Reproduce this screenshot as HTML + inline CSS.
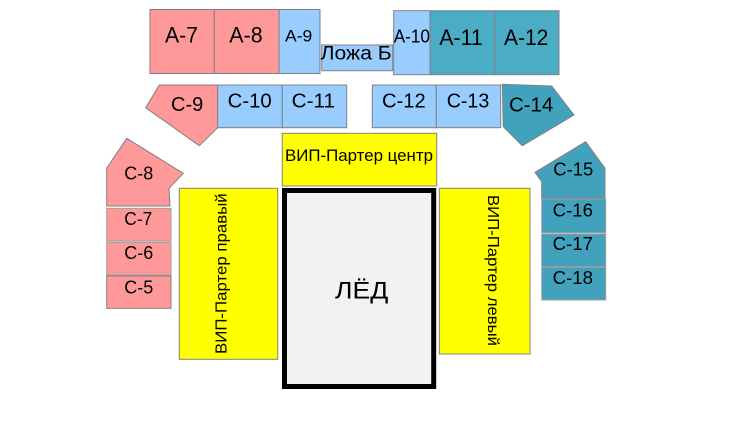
<!DOCTYPE html>
<html>
<head>
<meta charset="utf-8">
<style>
  html,body{margin:0;padding:0;background:#fff;}
  svg{display:block;}
  text{font-family:"Liberation Sans","DejaVu Sans",sans-serif;fill:#000;}
</style>
</head>
<body>
<svg width="750" height="445" viewBox="0 0 750 445" xmlns="http://www.w3.org/2000/svg">
  <rect x="0" y="0" width="750" height="445" fill="#fff"/>

  <!-- A row -->
  <rect x="150" y="9.5" width="64.3" height="64" fill="#ff9999" stroke="#808080" stroke-width="1"/>
  <rect x="214.3" y="9.5" width="64.7" height="64" fill="#ff9999" stroke="#808080" stroke-width="1"/>
  <rect x="279" y="9.5" width="41" height="64" fill="#99ccff" stroke="#808080" stroke-width="1"/>
  <rect x="321.7" y="45" width="71" height="25.7" fill="#99ccff" stroke="#808080" stroke-width="1"/>
  <rect x="393.7" y="10.7" width="36.3" height="64" fill="#99ccff" stroke="#808080" stroke-width="1"/>
  <rect x="430" y="10.7" width="64.7" height="64" fill="#4bacc6" stroke="#808080" stroke-width="1"/>
  <rect x="494.7" y="10.7" width="64.3" height="64" fill="#4bacc6" stroke="#808080" stroke-width="1"/>

  <text x="165" y="42.7" font-size="22" textLength="33" lengthAdjust="spacingAndGlyphs">А-7</text>
  <text x="229.3" y="42.7" font-size="22" textLength="33.4" lengthAdjust="spacingAndGlyphs">А-8</text>
  <text x="285" y="41.7" font-size="17" textLength="27.3" lengthAdjust="spacingAndGlyphs">А-9</text>
  <text x="320.7" y="59.5" font-size="19" textLength="71" lengthAdjust="spacingAndGlyphs">Ложа Б</text>
  <text x="393.7" y="42.3" font-size="18" textLength="36.3" lengthAdjust="spacingAndGlyphs">А-10</text>
  <text x="439.3" y="45" font-size="22" textLength="43.4" lengthAdjust="spacingAndGlyphs">А-11</text>
  <text x="504" y="45" font-size="22" textLength="44.3" lengthAdjust="spacingAndGlyphs">А-12</text>

  <!-- C upper row -->
  <polygon points="159.3,85 217.7,85 217.7,127.7 199.3,145.7 145.7,107.7" fill="#ff9999" stroke="#808080" stroke-width="1"/>
  <rect x="217.7" y="85" width="64.6" height="42.7" fill="#99ccff" stroke="#808080" stroke-width="1"/>
  <rect x="282.3" y="85" width="64.4" height="42.7" fill="#99ccff" stroke="#808080" stroke-width="1"/>
  <rect x="372.3" y="85" width="64" height="42.7" fill="#99ccff" stroke="#808080" stroke-width="1"/>
  <rect x="436.3" y="85" width="64.4" height="42.7" fill="#99ccff" stroke="#808080" stroke-width="1"/>
  <polygon points="502.3,84.3 551.7,86 574,115 522.3,145.7 503.3,126.7" fill="#42a1bd" stroke="#808080" stroke-width="1"/>

  <text x="171" y="111" font-size="20" textLength="32.3" lengthAdjust="spacingAndGlyphs">С-9</text>
  <text x="227.7" y="107.3" font-size="20" textLength="44" lengthAdjust="spacingAndGlyphs">С-10</text>
  <text x="291.7" y="107.3" font-size="20" textLength="43.3" lengthAdjust="spacingAndGlyphs">С-11</text>
  <text x="382" y="107.3" font-size="20" textLength="43.7" lengthAdjust="spacingAndGlyphs">С-12</text>
  <text x="446.7" y="107.3" font-size="20" textLength="42.6" lengthAdjust="spacingAndGlyphs">С-13</text>
  <text x="509" y="111.7" font-size="20" textLength="44.3" lengthAdjust="spacingAndGlyphs">С-14</text>

  <!-- VIP centre -->
  <rect x="282.3" y="133.3" width="154.4" height="52.7" fill="#ffff00" stroke="#808080" stroke-width="1"/>
  <text x="285" y="161" font-size="17" textLength="148" lengthAdjust="spacingAndGlyphs">ВИП-Партер центр</text>

  <!-- Ice -->
  <rect x="284.5" y="190.5" width="149.2" height="196" fill="#f2f2f2" stroke="#000" stroke-width="5"/>
  <text x="335" y="298.3" font-size="24" textLength="53.3" lengthAdjust="spacingAndGlyphs">ЛЁД</text>

  <!-- VIP right (left side) -->
  <rect x="179.3" y="188.3" width="98.4" height="171" fill="#ffff00" stroke="#808080" stroke-width="1"/>
  <text transform="translate(226.7,354) rotate(-90)" x="0" y="0" font-size="15.5" textLength="160.7" lengthAdjust="spacingAndGlyphs">ВИП-Партер правый</text>

  <!-- VIP left (right side) -->
  <rect x="439.3" y="188.3" width="90.7" height="165.7" fill="#ffff00" stroke="#808080" stroke-width="1"/>
  <text transform="translate(488,195) rotate(90)" x="0" y="0" font-size="15.5" textLength="151" lengthAdjust="spacingAndGlyphs">ВИП-Партер левый</text>

  <!-- Left C column -->
  <polygon points="126.7,138.3 183.3,173.3 169,188.3 170,206 106.7,206 106.7,168.3" fill="#ff9999" stroke="#808080" stroke-width="1"/>
  <rect x="106.7" y="208.3" width="64.3" height="32.7" fill="#ff9999" stroke="#a0a0a0" stroke-width="1"/>
  <rect x="106.7" y="242.3" width="64.3" height="32.7" fill="#ff9999" stroke="#a0a0a0" stroke-width="1"/>
  <rect x="106.7" y="276" width="64.3" height="32.3" fill="#ff9999" stroke="#808080" stroke-width="1"/>

  <text x="124.3" y="179.3" font-size="18" textLength="29" lengthAdjust="spacingAndGlyphs">С-8</text>
  <text x="124.3" y="225" font-size="18" textLength="28" lengthAdjust="spacingAndGlyphs">С-7</text>
  <text x="124.3" y="259" font-size="18" textLength="29" lengthAdjust="spacingAndGlyphs">С-6</text>
  <text x="124.3" y="293.3" font-size="18" textLength="29" lengthAdjust="spacingAndGlyphs">С-5</text>

  <!-- Right C column -->
  <polygon points="535,172.3 585.7,141.7 605,168.3 605,198.3 541.7,198.3 541.7,181.7" fill="#42a1bd" stroke="#808080" stroke-width="1"/>
  <rect x="541.7" y="199" width="64" height="33.7" fill="#42a1bd" stroke="#a0a0a0" stroke-width="1"/>
  <rect x="541.7" y="234" width="64" height="32.7" fill="#42a1bd" stroke="#a0a0a0" stroke-width="1"/>
  <rect x="541.7" y="267.3" width="64" height="32.7" fill="#42a1bd" stroke="#a0a0a0" stroke-width="1"/>

  <text x="553.3" y="175.7" font-size="18" textLength="40" lengthAdjust="spacingAndGlyphs">С-15</text>
  <text x="552.7" y="216.7" font-size="18" textLength="40.3" lengthAdjust="spacingAndGlyphs">С-16</text>
  <text x="552.7" y="250" font-size="18" textLength="40.3" lengthAdjust="spacingAndGlyphs">С-17</text>
  <text x="552.7" y="284" font-size="18" textLength="40.3" lengthAdjust="spacingAndGlyphs">С-18</text>
</svg>
</body>
</html>
